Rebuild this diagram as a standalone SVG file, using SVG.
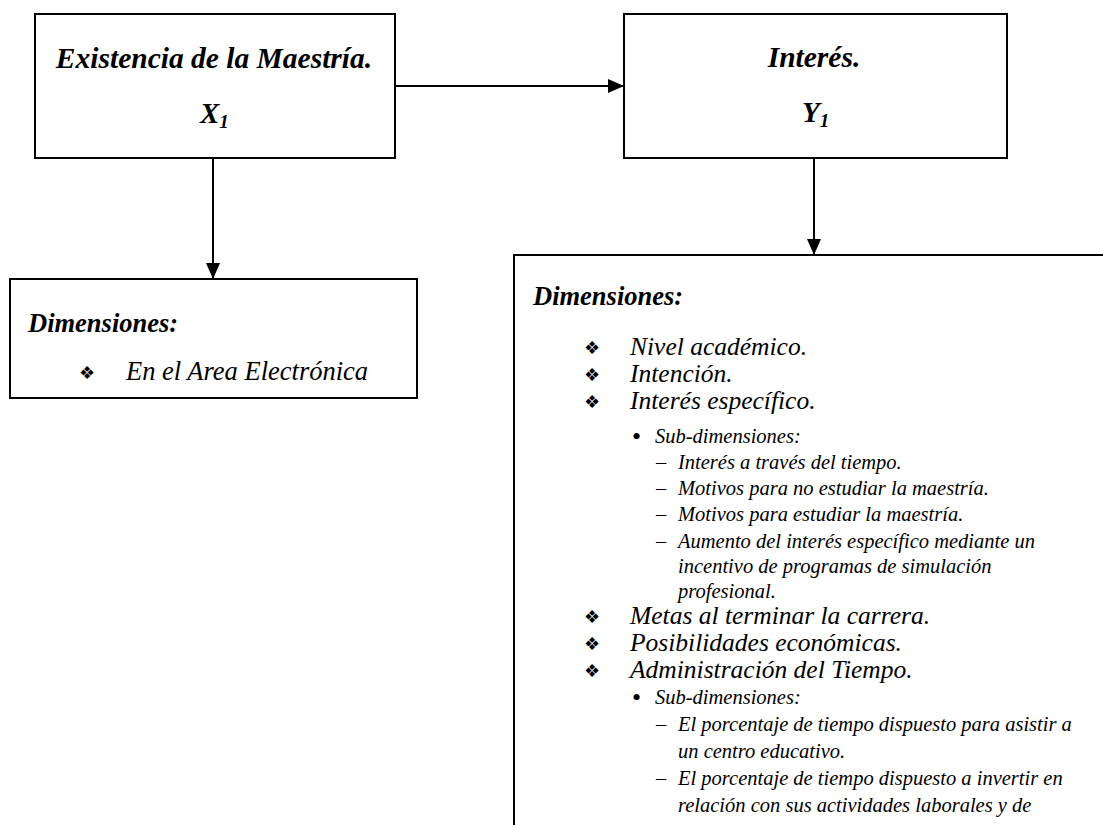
<svg xmlns="http://www.w3.org/2000/svg" width="1103" height="825" viewBox="0 0 1103 825">
<style>
.box{fill:#fff;stroke:#000;stroke-width:2}
.conn{stroke:#000;stroke-width:2;fill:none}
.t{font-family:"Liberation Serif","Times New Roman",serif;fill:#000}
.bi{font-weight:bold;font-style:italic}
.it{font-style:italic}
.orn{font-family:"DejaVu Sans",sans-serif;font-size:18px;fill:#000}
</style>
<defs>
<marker id="ah" markerWidth="16" markerHeight="14" refX="16" refY="7" orient="auto" markerUnits="userSpaceOnUse">
<path d="M0,0 L16,7 L0,14 Z" fill="#000"/>
</marker>
</defs>
<rect width="1103" height="825" fill="#fff"/>
<g id="connectors">
<line class="conn" x1="395" y1="86" x2="624" y2="86" marker-end="url(#ah)"/>
<line class="conn" x1="213" y1="158" x2="213" y2="279" marker-end="url(#ah)"/>
<line class="conn" x1="814" y1="158" x2="814" y2="255" marker-end="url(#ah)"/>
</g>
<g id="node-x1">
<rect class="box" x="35" y="14" width="360" height="144"/>
<text class="t bi" x="214" y="68" font-size="29.5" text-anchor="middle">Existencia de la Maestría.</text>
<text class="t bi" x="200" y="123" font-size="29">X<tspan font-size="19" dy="5">1</tspan></text>
</g>
<g id="node-y1">
<rect class="box" x="624" y="14" width="383" height="144"/>
<text class="t bi" x="814" y="67" font-size="29.5" text-anchor="middle">Interés.</text>
<text class="t bi" x="802" y="122" font-size="29">Y<tspan font-size="19" dy="5">1</tspan></text>
</g>
<g id="node-dim-x1">
<rect class="box" x="10" y="279" width="407" height="119"/>
<text class="t bi" x="28" y="332" font-size="26.5">Dimensiones:</text>
<text class="orn" x="79" y="379">❖</text>
<text class="t it" x="126" y="380" font-size="26.5">En el Area Electrónica</text>
</g>
<g id="node-dim-y1">
<rect class="box" x="514" y="255" width="700" height="700"/>
<text class="t bi" x="533" y="305" font-size="26.5">Dimensiones:</text>
<g class="orn">
<text x="584" y="354">❖</text>
<text x="584" y="381">❖</text>
<text x="584" y="408">❖</text>
<text x="584" y="623">❖</text>
<text x="584" y="650">❖</text>
<text x="584" y="677">❖</text>
</g>
<g class="t it" font-size="25.5">
<text x="630" y="355">Nivel académico.</text>
<text x="630" y="382">Intención.</text>
<text x="630" y="409">Interés específico.</text>
<text x="630" y="624">Metas al terminar la carrera.</text>
<text x="630" y="651">Posibilidades económicas.</text>
<text x="630" y="678">Administración del Tiempo.</text>
</g>
<g class="t" font-size="20.5">
<text x="632" y="445" font-size="26">•</text>
<text x="632" y="706" font-size="26">•</text>
<text x="656" y="469">–</text>
<text x="656" y="495">–</text>
<text x="656" y="521">–</text>
<text x="656" y="548">–</text>
<text x="656" y="731">–</text>
<text x="656" y="785">–</text>
</g>
<g class="t it" font-size="20.5">
<text x="655" y="443">Sub-dimensiones:</text>
<text x="678" y="469">Interés a través del tiempo.</text>
<text x="678" y="495">Motivos para no estudiar la maestría.</text>
<text x="678" y="521">Motivos para estudiar la maestría.</text>
<text x="678" y="548">Aumento del interés específico mediante un</text>
<text x="678" y="573">incentivo de programas de simulación</text>
<text x="678" y="598">profesional.</text>
<text x="655" y="704">Sub-dimensiones:</text>
<text x="678" y="731">El porcentaje de tiempo dispuesto para asistir a</text>
<text x="678" y="758">un centro educativo.</text>
<text x="678" y="785">El porcentaje de tiempo dispuesto a invertir en</text>
<text x="678" y="812">relación con sus actividades laborales y de</text>
</g>
</g>
</svg>
